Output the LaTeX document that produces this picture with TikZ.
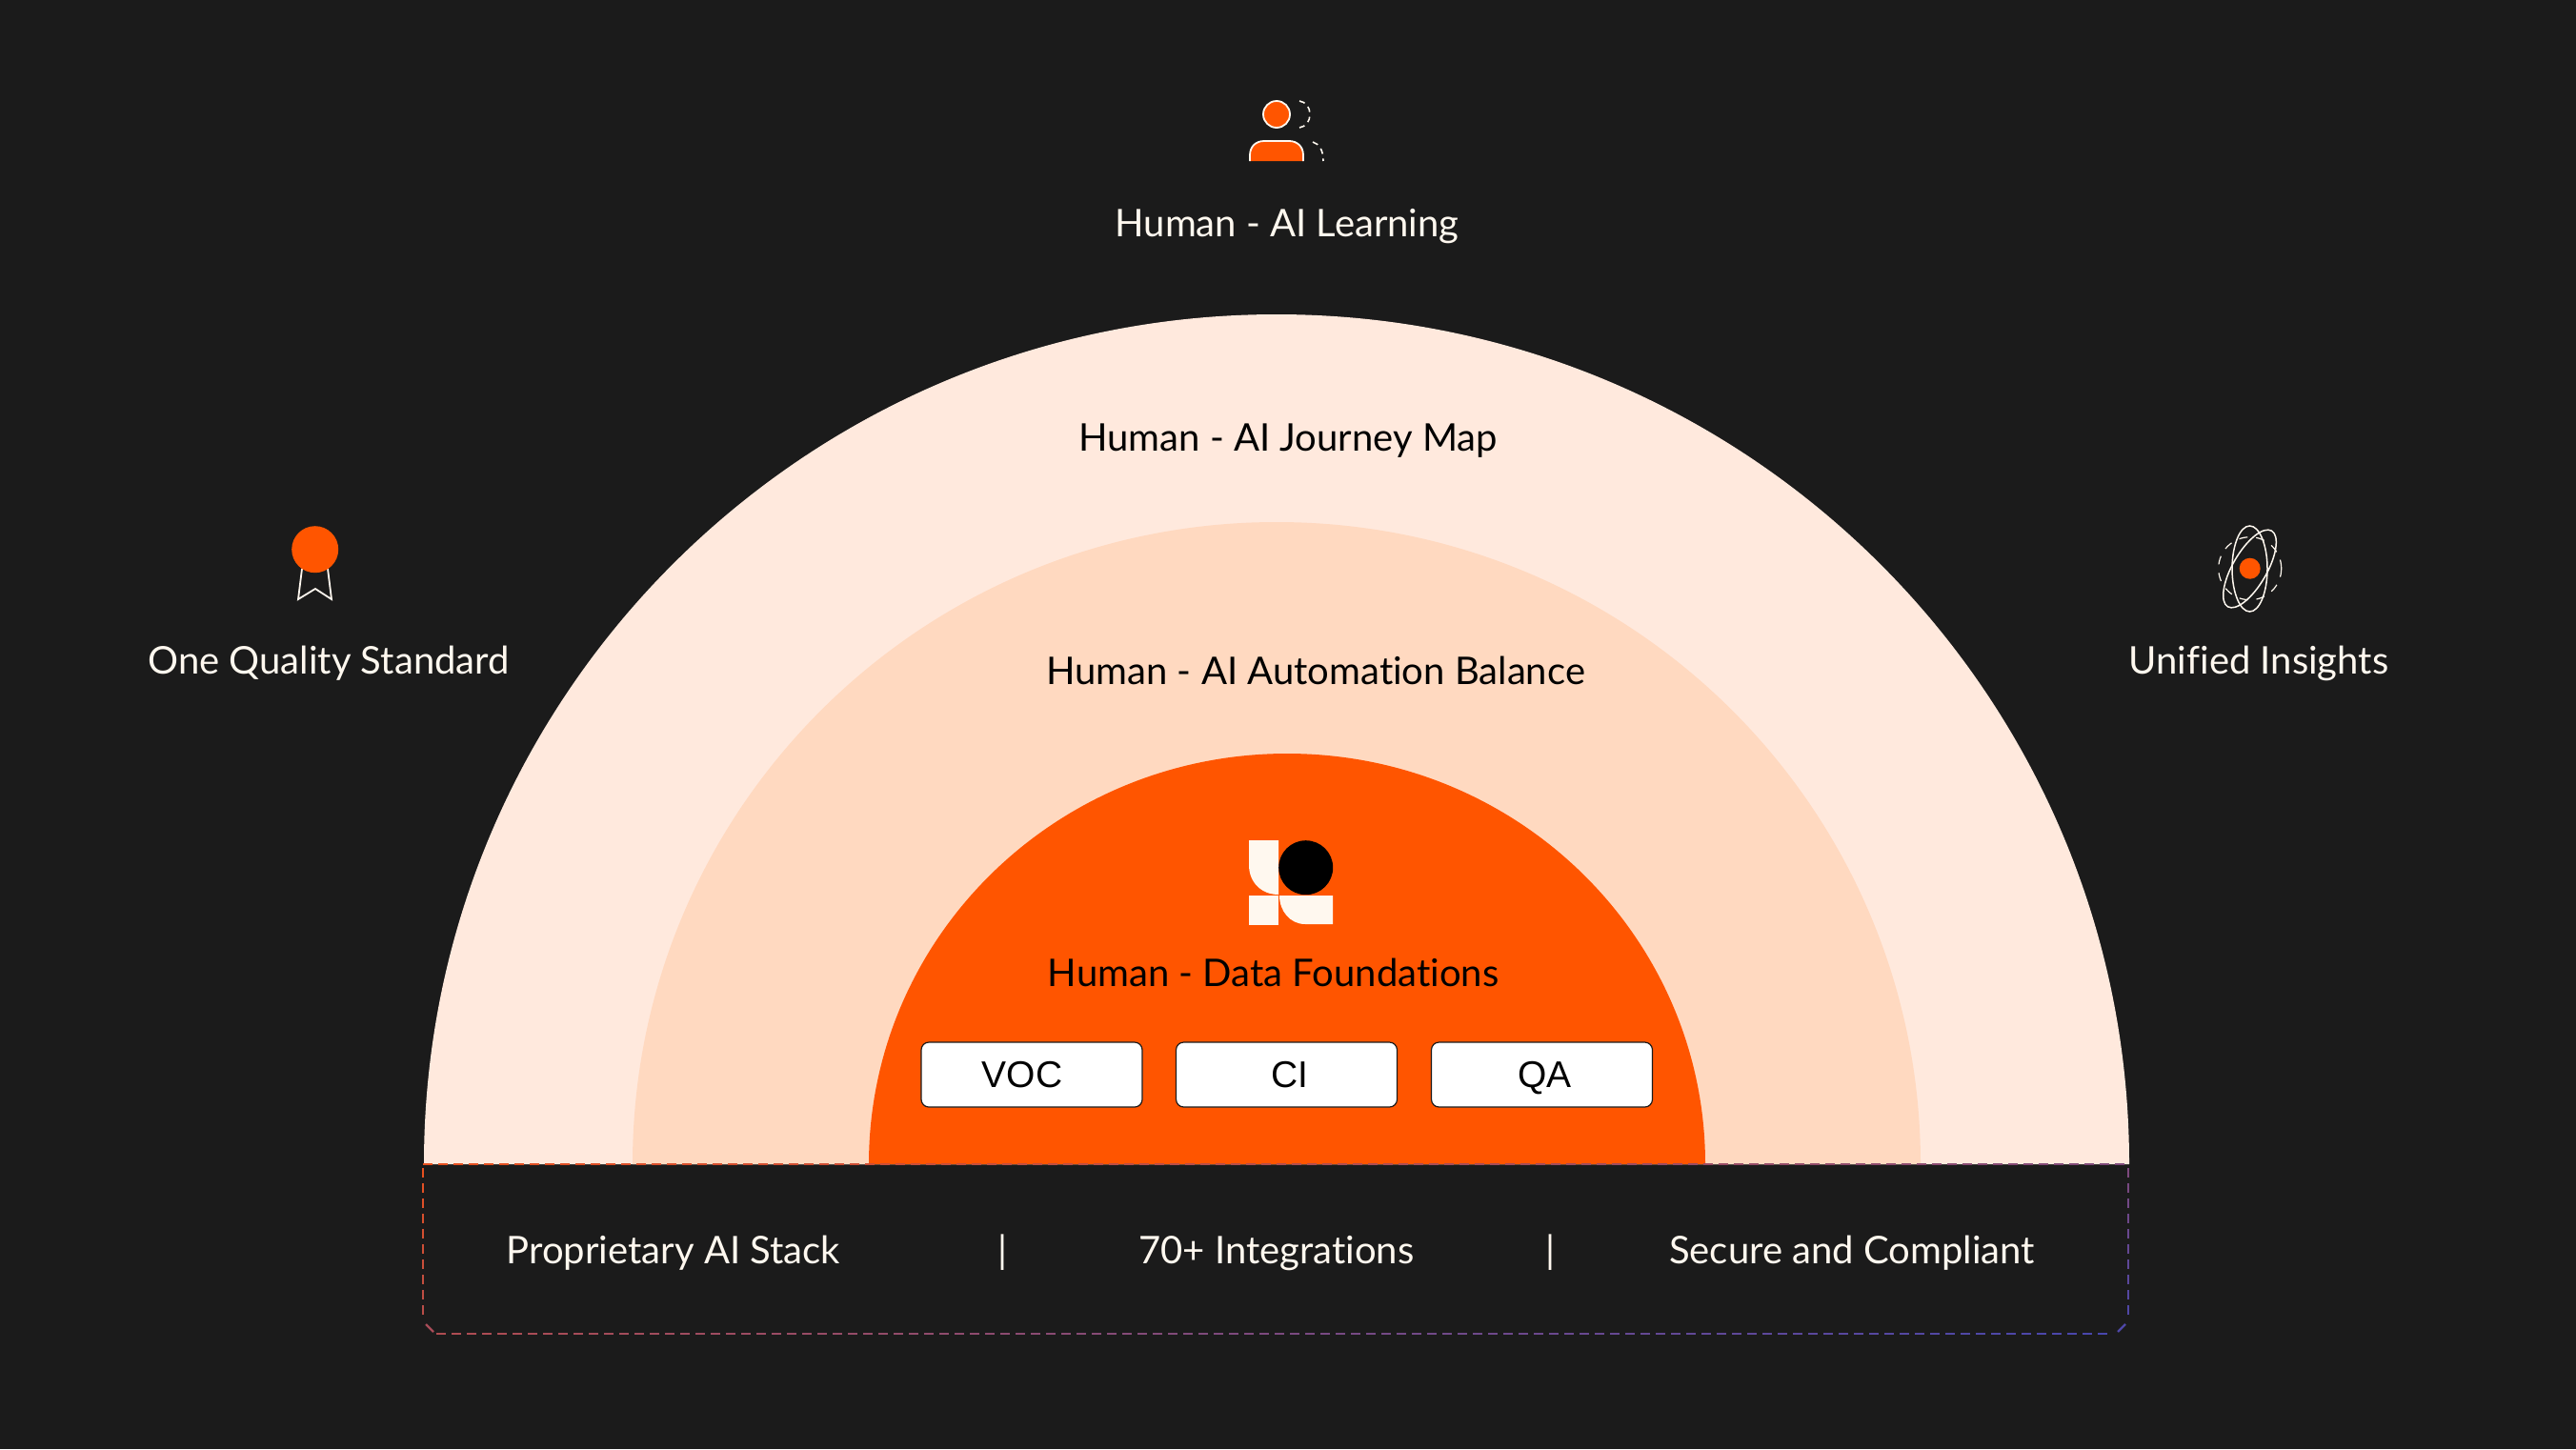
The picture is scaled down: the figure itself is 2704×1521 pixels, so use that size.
\documentclass[tikz,border=0pt]{standalone}
\usepackage{fontspec}
\setmainfont[Ligatures=NoCommon]{Lato}
\newfontfamily\btnfont{Liberation Sans}
\definecolor{bgdark}{HTML}{1B1B1B}
\definecolor{ringout}{HTML}{FFE9DD}
\definecolor{ringmid}{HTML}{FFD9C0}
\definecolor{hot}{HTML}{FF5500}
\definecolor{cream}{HTML}{FFF8EF}
\definecolor{dashA}{HTML}{E8501E}
\definecolor{dashB}{HTML}{4646AE}
\newcommand\dsh[4]{%
  \pgfmathsetmacro\mixp{100-100*(0.65*((#1)-444)/1790+0.35*((#2)-1222)/178)}%
  \draw[dashline,color={dashA!\mixp!dashB}] (#1,#2) -- (#3,#4);}
\tikzset{
  lab/.style={anchor=base,inner sep=0pt,font=\fontsize{40}{48}\selectfont},
  lightlab/.style={lab,text=cream},
  darklab/.style={lab,text=black},
  btn/.style={draw=bgdark,fill=white,line width=1.2pt,rounded corners=8pt,minimum width=232pt,minimum height=68pt,inner sep=0pt,text=black,text height=30pt,text depth=3pt,font=\btnfont\fontsize{39}{46}\selectfont},
  dashline/.style={line width=2.2pt},
  iconline/.style={draw=cream,line width=1.8pt},
  icondash/.style={draw=cream,line width=1.6pt,dash pattern=on 6pt off 5pt},
}
\begin{document}
\begin{tikzpicture}[x=1pt,y=-1pt]
\useasboundingbox (0,0) rectangle (2704,1521);
\fill[bgdark] (0,0) rectangle (2704,1521);
% rings
\fill[ringout] (445,1222) arc[start angle=180,end angle=360,x radius=895,y radius=892] -- cycle;
\fill[ringmid] (664,1222) arc[start angle=180,end angle=360,x radius=676,y radius=674] -- cycle;
\fill[hot] (912,1222) arc[start angle=180,end angle=360,x radius=439,y radius=431] -- cycle;
% labels
\node[lightlab] (learn) at (1351,248.5) {Human - AI Learning};
\node[darklab] (journey) at (1352,473.5) {Human - AI Journey Map};
\node[darklab] (balance) at (1381,718) {Human - AI Automation Balance};
\node[darklab] (found) at (1336.5,1035) {Human - Data Foundations};
\node[lightlab] (quality) at (345,707.5) {One Quality Standard};
\node[lightlab] (insights) at (2371,707.5) {Unified Insights};
\node[lightlab] (stack) at (707,1326) {Proprietary AI Stack};
\node[lightlab] (integ) at (1340,1326) {70+ Integrations};
\node[lightlab] (secure) at (1944,1326) {Secure and Compliant};
\node[lightlab] (sepa) at (1052,1326) {|};
\node[lightlab] (sepb) at (1627,1326) {|};
% buttons
\node[btn] (voc) at (1083,1128) {\hspace{-20pt}VOC};
\node[btn] (ci) at (1350.5,1128) {\hspace{6pt}CI};
\node[btn] (qa) at (1618.5,1128) {\hspace{6pt}QA};
% logo
\fill[cream] (1311,882) -- (1342,882) -- (1342,939) .. controls (1324,939) and (1311,926) .. (1311,908) -- cycle;
\fill[cream] (1311,940) rectangle (1342,971);
\fill[cream] (1343,940) -- (1399,940) -- (1399,970) -- (1370,970) .. controls (1354,970) and (1343,956) .. (1343,940) -- cycle;
\fill[black] (1370.7,910.7) circle[radius=28.5];
% person icon
\draw[iconline,fill=hot] (1340,120) circle[radius=14];
\fill[hot] (1312,169) -- (1312,163) .. controls (1312,154) and (1318,148) .. (1327,148) -- (1353,148) .. controls (1362,148) and (1368,154) .. (1368,163) -- (1368,169) -- cycle;
\draw[iconline] (1312,169) -- (1312,163) .. controls (1312,154) and (1318,148) .. (1327,148) -- (1353,148) .. controls (1362,148) and (1368,154) .. (1368,163) -- (1368,169);
\draw[icondash] (1364,106) .. controls (1371,107) and (1375,113) .. (1375,120) .. controls (1375,127) and (1371,133) .. (1364,134);
\draw[icondash] (1378,149) .. controls (1385,151) and (1389,158) .. (1389,169);
% medal icon
\draw[iconline,line join=miter] (317,597) -- (313,629) -- (331,618) -- (348,629) -- (344,597);
\fill[hot] (330.7,576.7) circle[radius=24.5];
% atom icon
\draw[icondash,line width=1.2pt,dash pattern=on 9pt off 9pt] (2361.7,596.7) circle[radius=33];
\draw[iconline,line width=1.5pt] (2361.5,597) ellipse[x radius=18.5,y radius=45];
\draw[iconline,line width=1.5pt,rotate around={-30:(2361.5,597)}] (2361.5,597) ellipse[x radius=18,y radius=46];
\fill[hot] (2361.7,596.7) circle[radius=11];
% gradient dashed frame
\foreach \px in {444,460,...,2220}{\dsh{\px}{1222}{\px+10}{1222}}
\foreach \py in {1226,1242,...,1370}{\dsh{444}{\py}{444}{\py+10}\dsh{2234}{\py}{2234}{\py+10}}
\foreach \px in {458,474,...,2210}{\dsh{\px}{1400}{\px+10}{1400}}
\draw[dashline,color={dashA!60!dashB}] (447,1390) -- (455,1398);
\draw[dashline,color={dashA!5!dashB}] (2231,1390) -- (2223,1398);
\end{tikzpicture}
\end{document}
